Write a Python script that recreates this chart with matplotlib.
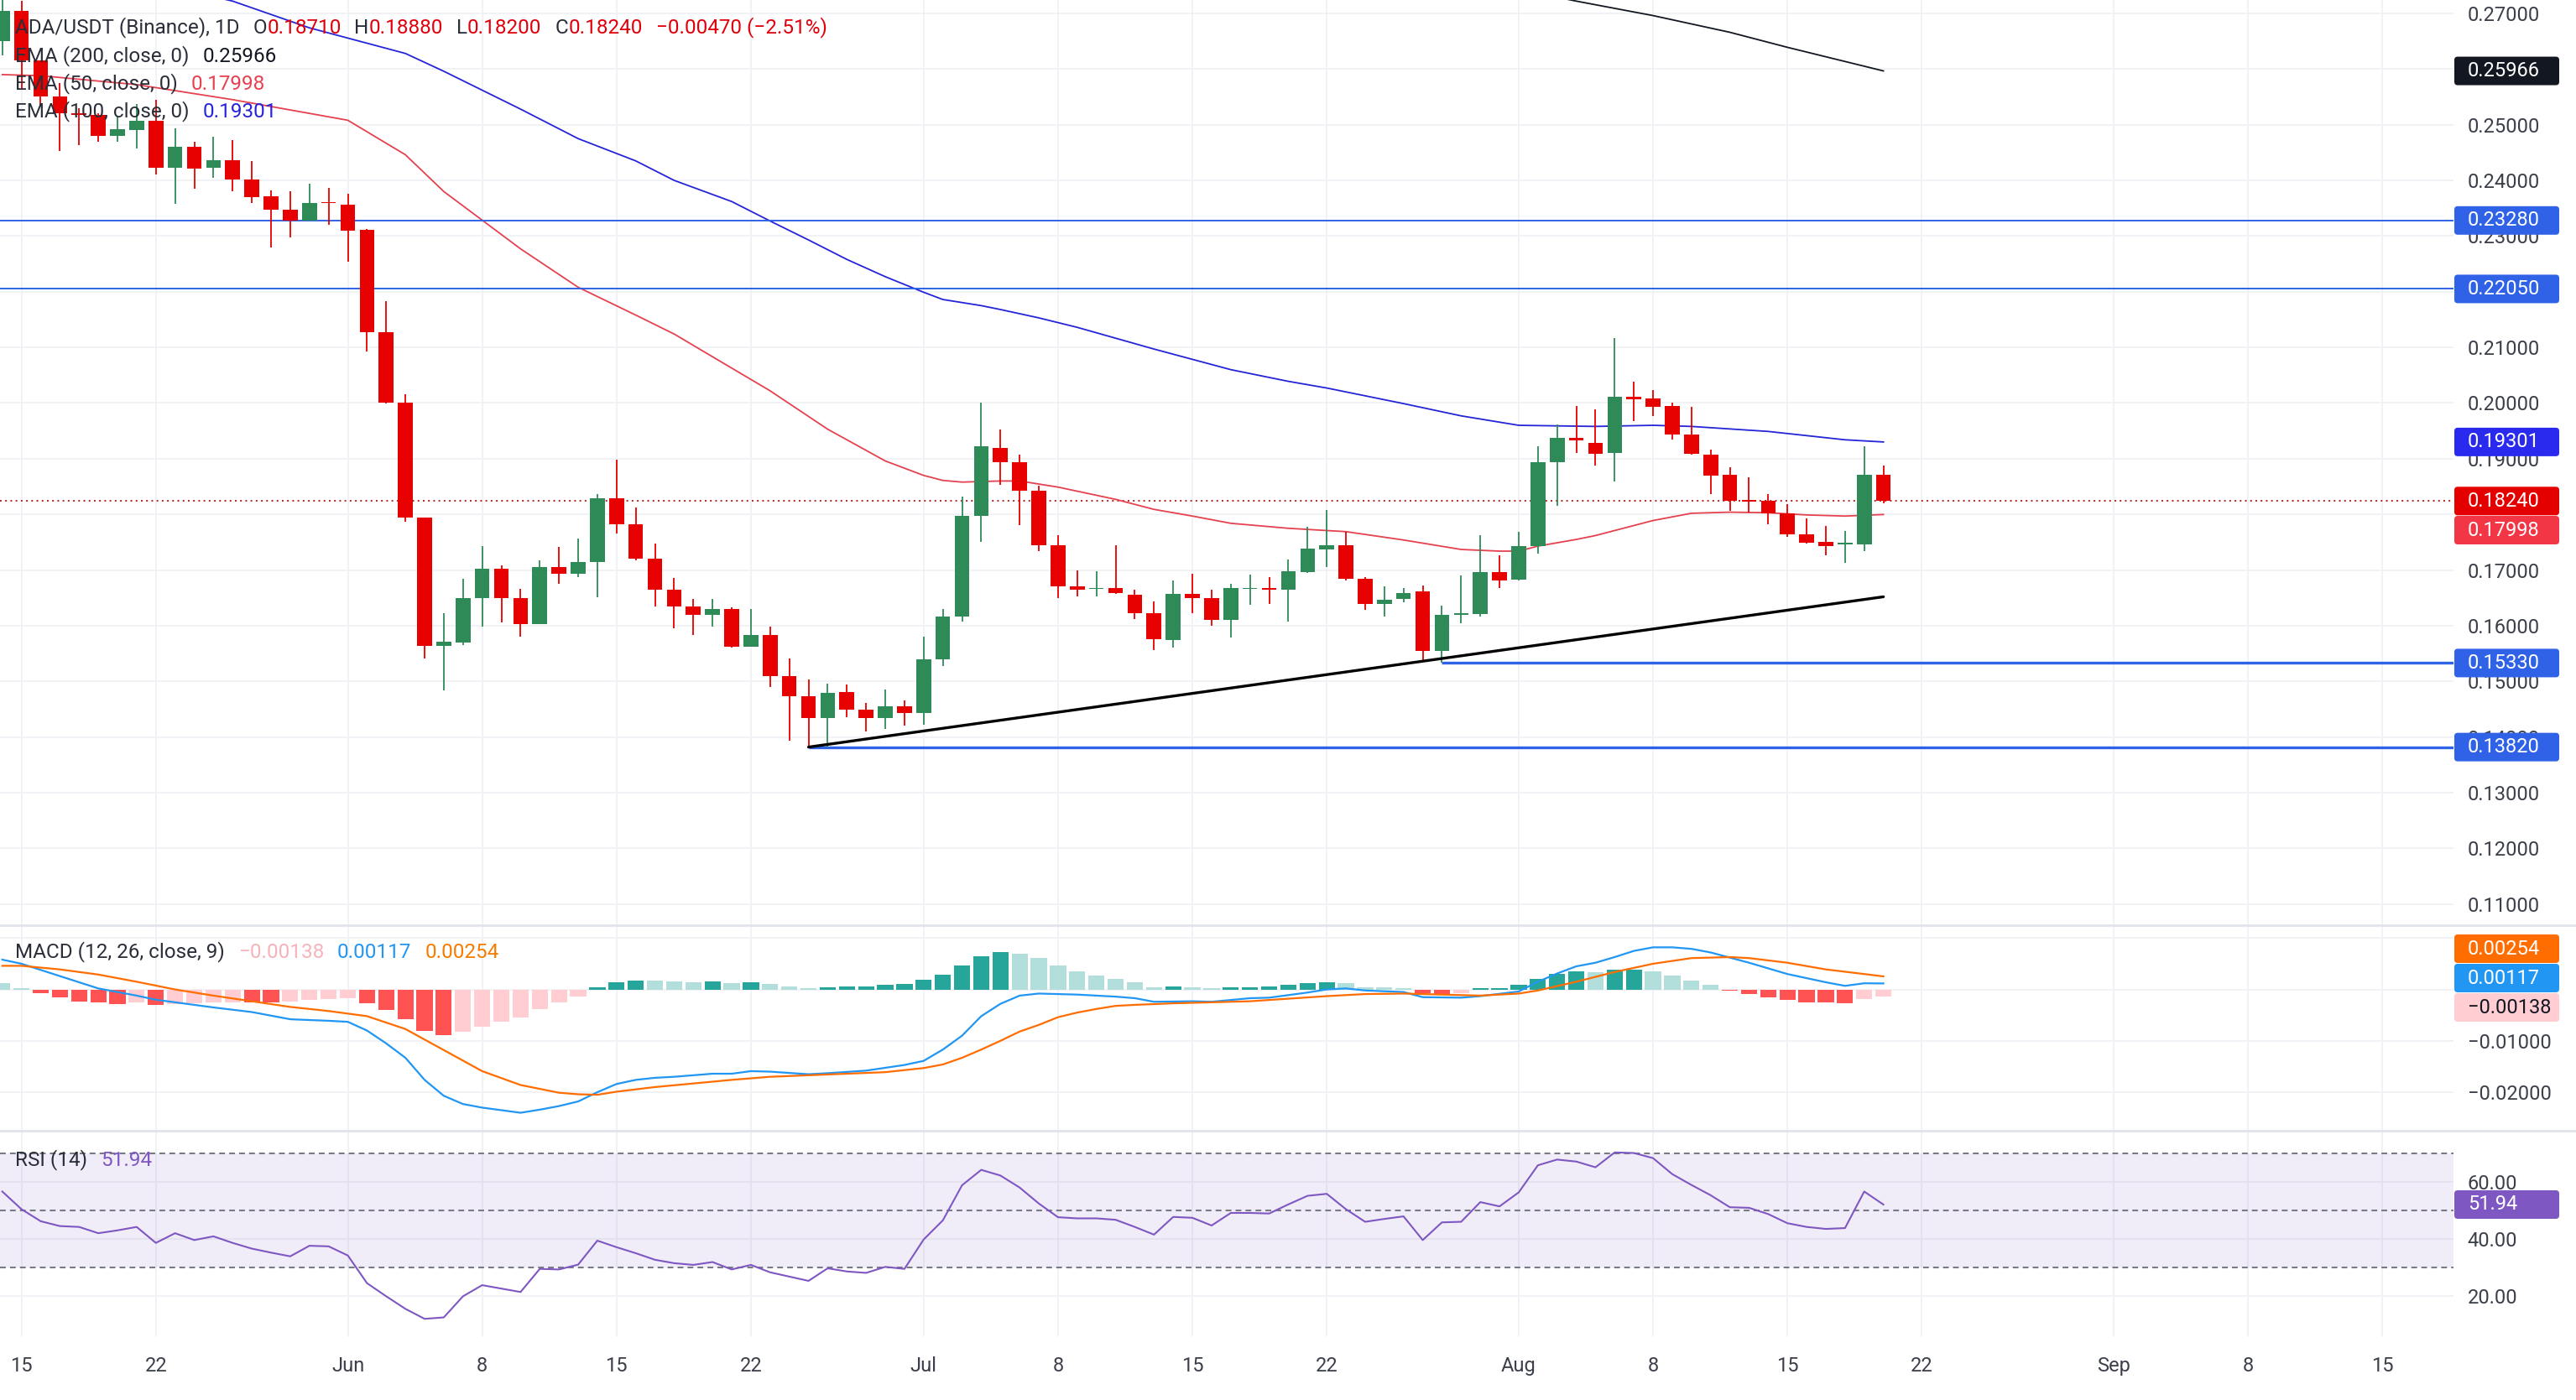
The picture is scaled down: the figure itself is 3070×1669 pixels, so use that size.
import numpy as np
import pandas as pd
import matplotlib
matplotlib.use("Agg")
import matplotlib.pyplot as plt
from matplotlib.patches import FancyBboxPatch
from matplotlib.transforms import IdentityTransform

plt.rcParams['font.family'] = ['Roboto', 'DejaVu Sans']

# ---------------- data ----------------
start_date = "2025-05-14"
opens = [0.2650, 0.2705, 0.2616, 0.2551, 0.2520, 0.2518, 0.2480, 0.2490, 0.2507, 0.2422,
         0.2460, 0.2422, 0.2436, 0.2401, 0.2371, 0.2348, 0.2328, 0.2361, 0.2356, 0.2311,
         0.2128, 0.2001, 0.1795, 0.1564, 0.1570, 0.1650, 0.1702, 0.1650, 0.1603, 0.1705,
         0.1693, 0.1715, 0.1829, 0.1783, 0.1720, 0.1665, 0.1634, 0.1619, 0.1630, 0.1562,
         0.1583, 0.1510, 0.1474, 0.1434, 0.1481, 0.1450, 0.1434, 0.1456, 0.1443, 0.1539,
         0.1616, 0.1798, 0.1920, 0.1894, 0.1842, 0.1745, 0.1670, 0.1666, 0.1667, 0.1656,
         0.1622, 0.1575, 0.1657, 0.1650, 0.1610, 0.1666, 0.1667, 0.1665, 0.1696, 0.1737,
         0.1745, 0.1685, 0.1639, 0.1648, 0.1661, 0.1555, 0.1620, 0.1621, 0.1697, 0.1683,
         0.1743, 0.1894, 0.1937, 0.1928, 0.1910, 0.2012, 0.2008, 0.1995, 0.1943, 0.1908,
         0.1871, 0.1826, 0.1824, 0.1802, 0.1764, 0.1750, 0.1746, 0.1746, 0.1871]
highs = [0.2730, 0.2722, 0.2616, 0.2575, 0.2530, 0.2521, 0.2514, 0.2537, 0.2545, 0.2493,
         0.2469, 0.2479, 0.2473, 0.2435, 0.2382, 0.2380, 0.2394, 0.2387, 0.2376, 0.2313,
         0.2183, 0.2016, 0.1795, 0.1622, 0.1685, 0.1743, 0.1708, 0.1666, 0.1717, 0.1741,
         0.1756, 0.1837, 0.1898, 0.1812, 0.1747, 0.1686, 0.1648, 0.1648, 0.1633, 0.1630,
         0.1598, 0.1541, 0.1504, 0.1496, 0.1494, 0.1462, 0.1485, 0.1466, 0.1581, 0.1630,
         0.1832, 0.2000, 0.1952, 0.1907, 0.1852, 0.1762, 0.1699, 0.1698, 0.1744, 0.1664,
         0.1644, 0.1682, 0.1694, 0.1664, 0.1676, 0.1692, 0.1688, 0.1719, 0.1777, 0.1808,
         0.1768, 0.1687, 0.1670, 0.1668, 0.1672, 0.1636, 0.1691, 0.1763, 0.1727, 0.1769,
         0.1922, 0.1962, 0.1994, 0.1989, 0.2117, 0.2039, 0.2024, 0.2000, 0.1993, 0.1917,
         0.1884, 0.1867, 0.1837, 0.1818, 0.1793, 0.1779, 0.1770, 0.1922, 0.1888]
lows = [0.2625, 0.2565, 0.2533, 0.2453, 0.2463, 0.2470, 0.2470, 0.2458, 0.2411, 0.2358,
        0.2385, 0.2405, 0.2380, 0.2360, 0.2279, 0.2298, 0.2327, 0.2320, 0.2254, 0.2093,
        0.1999, 0.1787, 0.1541, 0.1484, 0.1565, 0.1598, 0.1606, 0.1580, 0.1603, 0.1675,
        0.1687, 0.1651, 0.1766, 0.1718, 0.1635, 0.1596, 0.1583, 0.1598, 0.1561, 0.1562,
        0.1490, 0.1394, 0.1382, 0.1382, 0.1435, 0.1410, 0.1415, 0.1421, 0.1422, 0.1527,
        0.1608, 0.1750, 0.1853, 0.1781, 0.1734, 0.1649, 0.1652, 0.1653, 0.1657, 0.1612,
        0.1556, 0.1561, 0.1622, 0.1600, 0.1579, 0.1637, 0.1639, 0.1608, 0.1695, 0.1705,
        0.1682, 0.1629, 0.1617, 0.1642, 0.1538, 0.1533, 0.1604, 0.1617, 0.1667, 0.1682,
        0.1729, 0.1816, 0.1910, 0.1887, 0.1859, 0.1967, 0.1977, 0.1934, 0.1908, 0.1837,
        0.1807, 0.1804, 0.1782, 0.1759, 0.1747, 0.1726, 0.1713, 0.1734, 0.1820]
closes = [0.2705, 0.2616, 0.2551, 0.2520, 0.2518, 0.2480, 0.2492, 0.2507, 0.2422, 0.2460,
          0.2421, 0.2436, 0.2401, 0.2370, 0.2348, 0.2328, 0.2359, 0.2359, 0.2310, 0.2127,
          0.2000, 0.1795, 0.1564, 0.1571, 0.1650, 0.1702, 0.1650, 0.1603, 0.1705, 0.1693,
          0.1715, 0.1829, 0.1782, 0.1720, 0.1665, 0.1634, 0.1619, 0.1630, 0.1562, 0.1583,
          0.1510, 0.1474, 0.1434, 0.1480, 0.1449, 0.1434, 0.1456, 0.1443, 0.1539, 0.1616,
          0.1798, 0.1922, 0.1894, 0.1842, 0.1745, 0.1670, 0.1665, 0.1668, 0.1658, 0.1622,
          0.1576, 0.1657, 0.1650, 0.1610, 0.1667, 0.1668, 0.1665, 0.1698, 0.1738, 0.1744,
          0.1684, 0.1639, 0.1647, 0.1659, 0.1555, 0.1620, 0.1622, 0.1697, 0.1682, 0.1743,
          0.1894, 0.1937, 0.1933, 0.1909, 0.2011, 0.2007, 0.1993, 0.1944, 0.1909, 0.1870,
          0.1824, 0.1823, 0.1802, 0.1764, 0.1749, 0.1743, 0.1749, 0.1871, 0.1824]

# EMA lines, read at candle numbers (1 = first candle)
ema50_n = [1, 3, 8, 13, 19, 22, 24, 28, 31, 34, 36, 41, 44, 47, 49, 50, 51, 53, 54, 56,
           59, 61, 63, 65, 68, 71, 74, 77, 79, 80, 81, 83, 84, 87, 89, 91, 93, 95, 97, 99]
ema50_v = [0.2590, 0.2588, 0.2572, 0.2545, 0.2508, 0.2446, 0.2380, 0.2277, 0.2208, 0.2158,
           0.2124, 0.2022, 0.1953, 0.1896, 0.1870, 0.1861, 0.1858, 0.1860, 0.1860, 0.1849,
           0.1827, 0.1809, 0.1797, 0.1784, 0.1775, 0.1769, 0.1754, 0.1737, 0.1734, 0.1734,
           0.1743, 0.1755, 0.1762, 0.1789, 0.1802, 0.1804, 0.1803, 0.1799, 0.1797, 0.17998]
ema100_n = [12, 13, 17, 22, 24, 28, 31, 34, 36, 39, 41, 43, 45, 47, 49, 50, 52, 53, 55, 57,
            61, 65, 68, 70, 74, 77, 80, 82, 84, 87, 89, 93, 97, 99]
ema100_v = [0.2730, 0.2722, 0.2674, 0.2628, 0.2596, 0.2528, 0.2475, 0.2435, 0.2400, 0.2362,
            0.2327, 0.2293, 0.2258, 0.2227, 0.2199, 0.2186, 0.2175, 0.2168, 0.2153, 0.2136,
            0.2097, 0.2060, 0.2039, 0.2027, 0.1999, 0.1977, 0.1960, 0.1959, 0.1958, 0.1960,
            0.1958, 0.1949, 0.1934, 0.19301]
ema200_n = [82, 83, 87, 91, 94, 99]
ema200_v = [0.2729, 0.2722, 0.2696, 0.2666, 0.2639, 0.25966]

levels = [0.2328, 0.2205, 0.1533, 0.1382]
level_from = [None, None, 76, 43]
trend_n = [43, 99]
trend_v = [0.1382, 0.1652]
last_price = 0.1824

macd_n = [1, 2, 4, 6, 8, 9, 12, 14, 16, 18, 19, 20, 21, 22, 23, 24, 25, 26, 28, 29,
          30, 31, 32, 33, 34, 35, 36, 37, 38, 39, 40, 41, 43, 44, 46, 48, 49, 50, 51, 52,
          53, 54, 55, 57, 59, 60, 61, 63, 64, 66, 67, 69, 70, 71, 72, 74, 75, 77, 78, 80,
          81, 82, 83, 84, 85, 86, 87, 88, 89, 90, 91, 92, 93, 94, 95, 96, 97, 98, 99]
macd_v = [0.0058, 0.0050, 0.0026, 0.0002, -0.0012, -0.0020, -0.0035, -0.0044, -0.0058, -0.0061,
          -0.0063, -0.0080, -0.0105, -0.0133, -0.0176, -0.0207, -0.0223, -0.0230, -0.0240, -0.0234,
          -0.0227, -0.0218, -0.0200, -0.0184, -0.0176, -0.0172, -0.0170, -0.0167, -0.0164, -0.0164,
          -0.0159, -0.0160, -0.0165, -0.0163, -0.0158, -0.0147, -0.0139, -0.0117, -0.0090, -0.0052,
          -0.0028, -0.0012, -0.0008, -0.0010, -0.0014, -0.0017, -0.0024, -0.0023, -0.0024, -0.0017,
          -0.0016, -0.0006, 0.0000, 0.0002, -0.0002, -0.0005, -0.0015, -0.0016, -0.0013, -0.0004,
          0.0015, 0.0031, 0.0045, 0.0052, 0.0063, 0.0075, 0.0082, 0.0082, 0.0079, 0.0072,
          0.0062, 0.0052, 0.0041, 0.0030, 0.0022, 0.0014, 0.0007, 0.0012, 0.00117]
signal_n = [1, 2, 4, 6, 8, 10, 12, 14, 16, 18, 20, 22, 24, 26, 28, 30, 31, 32, 33, 35,
            37, 39, 41, 43, 45, 47, 49, 50, 51, 52, 53, 54, 55, 56, 57, 58, 59, 60, 62, 64,
            66, 68, 70, 72, 74, 76, 78, 80, 81, 83, 85, 87, 89, 91, 92, 94, 96, 98, 99]
signal_v = [0.0046, 0.0046, 0.0039, 0.0029, 0.0015, 0.0000, -0.0012, -0.0023, -0.0034, -0.0042,
            -0.0052, -0.0077, -0.0118, -0.0159, -0.0186, -0.0201, -0.0204, -0.0205, -0.0199, -0.0190,
            -0.0183, -0.0176, -0.0170, -0.0167, -0.0164, -0.0161, -0.0153, -0.0146, -0.0133, -0.0117,
            -0.0100, -0.0082, -0.0069, -0.0054, -0.0045, -0.0038, -0.0032, -0.0030, -0.0027, -0.0025,
            -0.0023, -0.0018, -0.0013, -0.0009, -0.0008, -0.0010, -0.0012, -0.0008, -0.0002, 0.0015,
            0.0034, 0.0050, 0.0061, 0.0063, 0.0061, 0.0052, 0.0039, 0.0030, 0.00254]
hist = [0.0012, 0.0003, -0.0008, -0.0016, -0.0023, -0.0026, -0.0028, -0.0026, -0.0030, -0.0028,
        -0.0027, -0.0026, -0.0025, -0.00255, -0.0026, -0.0024, -0.0021, -0.0019, -0.0017, -0.0027,
        -0.0040, -0.0058, -0.0081, -0.0089, -0.0083, -0.0072, -0.0062, -0.0054, -0.0038, -0.0025,
        -0.0014, 0.0005, 0.0014, 0.0018, 0.0017, 0.0015, 0.00145, 0.0015, 0.0012, 0.0014,
        0.0011, 0.0006, 0.0003, 0.0005, 0.00052, 0.00055, 0.0009, 0.0011, 0.0019, 0.0029,
        0.0046, 0.0064, 0.0072, 0.0070, 0.0061, 0.0046, 0.0035, 0.0027, 0.0020, 0.0014,
        0.0005, 0.00055, 0.0005, 0.0002, 0.0004, 0.0005, 0.0006, 0.0009, 0.0012, 0.0014,
        0.0012, 0.0005, 0.0004, 0.0002, -0.0008, -0.0009, -0.0008, 0.0002, 0.0003, 0.0009,
        0.0021, 0.0030, 0.0035, 0.0033, 0.0038, 0.0039, 0.0035, 0.0027, 0.0018, 0.0009,
        -0.0003, -0.0009, -0.0016, -0.0021, -0.0025, -0.0026, -0.0027, -0.0019, -0.00138]
rsi = [56.5, 50.3, 46.1, 44.4, 44.1, 41.9, 42.9, 44.1, 38.5, 41.9,
       39.5, 40.8, 38.5, 36.5, 35.1, 33.8, 37.5, 37.3, 34.1, 24.4,
       19.8, 15.4, 11.9, 12.4, 19.8, 23.7, 22.5, 21.3, 29.4, 29.2,
       30.9, 39.3, 37.0, 34.9, 32.6, 31.4, 30.8, 31.8, 29.2, 30.8,
       28.2, 26.7, 25.2, 29.6, 28.5, 28.0, 30.1, 29.4, 39.7, 46.4,
       58.7, 64.1, 62.1, 57.9, 52.3, 47.5, 47.1, 47.1, 46.6, 44.1,
       41.4, 47.6, 47.3, 44.6, 49.0, 49.0, 48.8, 52.0, 55.0, 55.7,
       50.3, 45.9, 46.9, 47.8, 39.5, 45.7, 45.9, 52.8, 51.3, 56.2,
       65.7, 67.7, 67.0, 65.0, 70.2, 70.0, 68.2, 62.6, 58.8, 55.2,
       51.0, 50.8, 48.6, 45.4, 44.1, 43.4, 43.7, 56.5, 51.94]

tick_dates = ["2025-05-15", "2025-05-22", "2025-06-01", "2025-06-08", "2025-06-15",
              "2025-06-22", "2025-07-01", "2025-07-08", "2025-07-15", "2025-07-22",
              "2025-08-01", "2025-08-08", "2025-08-15", "2025-08-22", "2025-09-01",
              "2025-09-08", "2025-09-15"]
price_ticks = [0.27, 0.26, 0.25, 0.24, 0.23, 0.22, 0.21, 0.20, 0.19, 0.18, 0.17, 0.16,
               0.15, 0.14, 0.13, 0.12, 0.11]
# ticks whose label sits fully under a value box
covered_ticks = [0.26, 0.22, 0.18]

# ---------------- colours ----------------
UP, DN = '#2E8A57', '#E60000'
TXT = '#2A2E39'
AXT = '#3B3F4A'
GRID = '#F0F1F4'
LVL = '#2F62E6'
E50, E100, E200 = '#E5414F', '#2424D8', '#131722'
M_BLUE, M_ORANGE = '#2196F3', '#FF6D00'
H_UP, H_UP2, H_DN, H_DN2 = '#26A69A', '#B2DFDB', '#FF5252', '#FFCDD2'
PURPLE = '#7E57C2'
FS = 17.5

W, H = 3070, 1669
fig = plt.figure(figsize=(W / 100, H / 100), dpi=100)
fig.patch.set_facecolor('white')

AX_R = 2924
P_BOT, M_BOT, R_BOT = 1103, 1348, 1593
ax_p = fig.add_axes([0, 1 - P_BOT / H, AX_R / W, P_BOT / H])
ax_m = fig.add_axes([0, 1 - M_BOT / H, AX_R / W, (M_BOT - P_BOT) / H])
ax_r = fig.add_axes([0, 1 - R_BOT / H, AX_R / W, (R_BOT - M_BOT) / H])

x0 = pd.Timestamp(start_date)
xs = np.arange(len(closes))
tick_x = [(pd.Timestamp(d) - x0).days for d in tick_dates]
tick_lab = [pd.Timestamp(d).strftime('%b') if pd.Timestamp(d).day == 1 else str(pd.Timestamp(d).day)
            for d in tick_dates]

XL = (-0.12, 127.7)
for ax in (ax_p, ax_m, ax_r):
    ax.set_xlim(*XL)
    for s in ax.spines.values():
        s.set_visible(False)
    ax.set_facecolor('none')
    for t in tick_x:
        ax.axvline(t, color=GRID, lw=1.3, zorder=0)
    ax.yaxis.tick_right()
    ax.tick_params(axis='y', length=0, pad=12, labelsize=17, colors=AXT)
    ax.tick_params(axis='x', length=0)
    ax.set_xticks([])

# ---------------- price pane ----------------
o = np.array(opens); c = np.array(closes); h = np.array(highs); l = np.array(lows)
cols = np.where(c >= o, UP, DN)
ax_p.set_ylim(0.1062, 0.2724)
for v in price_ticks:
    ax_p.axhline(v, color=GRID, lw=1.3, zorder=0)
label_ticks = [v for v in price_ticks if v not in covered_ticks]
ax_p.set_yticks(label_ticks)
ax_p.set_yticklabels(['%.5f' % v for v in label_ticks])

ax_p.vlines(xs, l, h, colors=cols, lw=1.3, zorder=3)
ax_p.bar(xs, np.maximum(np.abs(c - o), 0.00012), bottom=np.minimum(o, c), width=0.77,
         color=cols, linewidth=0, zorder=4)

ax_p.plot(np.array(ema50_n) - 1, ema50_v, color=E50, lw=1.3, zorder=2)
ax_p.plot(np.array(ema100_n) - 1, ema100_v, color=E100, lw=1.3, zorder=2)
ax_p.plot(np.array(ema200_n) - 1, ema200_v, color=E200, lw=1.3, zorder=2)

for v, f in zip(levels, level_from):
    if f is None:
        ax_p.axhline(v, color=LVL, lw=1.4, zorder=2)
    else:
        ax_p.hlines(v, f - 1, XL[1], color=LVL, lw=2.4, zorder=2)
ax_p.plot(np.array(trend_n) - 1, trend_v, color='black', lw=2.4, zorder=5,
          solid_capstyle='round')
ax_p.axhline(last_price, color='#B22222', lw=1.4, ls=(0, (1, 2.2)), zorder=1)

# ---------------- MACD pane ----------------
ax_m.set_ylim(-0.0275, 0.0125)
for v in [0.01, 0.0, -0.01, -0.02]:
    ax_m.axhline(v, color=GRID, lw=1.3, zorder=0)
ax_m.set_yticks([-0.01, -0.02])
ax_m.set_yticklabels(['\u22120.01000', '\u22120.02000'])
hcols = []
for k, v in enumerate(hist):
    prev = hist[k - 1] if k > 0 else None
    if v >= 0:
        hcols.append(H_UP if (prev is not None and v > prev) else H_UP2)
    else:
        hcols.append(H_DN if (prev is not None and v < prev) else H_DN2)
ax_m.bar(xs, hist, width=0.84, color=hcols, linewidth=0, zorder=2)
ax_m.plot(np.array(macd_n) - 1, macd_v, color=M_BLUE, lw=1.6, zorder=3)
ax_m.plot(np.array(signal_n) - 1, signal_v, color=M_ORANGE, lw=1.6, zorder=3)

# ---------------- RSI pane ----------------
ax_r.set_ylim(5.8, 77.8)
for v in [20, 40, 60]:
    ax_r.axhline(v, color=GRID, lw=1.3, zorder=0)
ax_r.axhspan(30, 70, color=PURPLE, alpha=0.1, lw=0, zorder=0)
for v in [30, 50, 70]:
    ax_r.axhline(v, color='#787B86', lw=1.5, dashes=(3.3, 2.4), zorder=1)
ax_r.plot(xs, rsi, color=PURPLE, lw=1.5, zorder=3)
ax_r.set_yticks([60, 40, 20])
ax_r.set_yticklabels(['60.00', '40.00', '20.00'])
ax_r.set_xticks(tick_x)
ax_r.set_xticklabels(tick_lab)
ax_r.tick_params(axis='x', length=0, pad=17, labelsize=17, colors=AXT)

# pane separators
for yy in (P_BOT, M_BOT):
    fig.add_artist(plt.Line2D([0, 1], [1 - yy / H, 1 - yy / H], color='#E0E3EB', lw=2,
                              transform=fig.transFigure))

# ---------------- right-axis value boxes ----------------
def value_box(ax, value, text, fc, tc='white', y_px=None):
    if y_px is None:
        yd = ax.transData.transform((0, value))[1]
    else:
        yd = H - y_px
    box = FancyBboxPatch((2925, yd - 17), 125, 34, boxstyle='round,pad=0,rounding_size=4',
                         fc=fc, ec='none', transform=IdentityTransform(), zorder=5)
    fig.add_artist(box)
    fig.text(2941, yd, text, color=tc, fontsize=17, va='center', ha='left',
             transform=IdentityTransform(), zorder=6)

value_box(ax_p, 0.25966, '0.25966', '#131722')
value_box(ax_p, 0.2328, '0.23280', LVL)
value_box(ax_p, 0.2205, '0.22050', LVL)
value_box(ax_p, 0.19301, '0.19301', '#2A2AEE')
value_box(ax_p, 0.1824, '0.18240', '#E50000')
value_box(ax_p, 0.17998, '0.17998', '#F23645', y_px=632)
value_box(ax_p, 0.1533, '0.15330', LVL)
value_box(ax_p, 0.1382, '0.13820', LVL)
value_box(ax_m, 0.00254, '0.00254', M_ORANGE, y_px=1131)
value_box(ax_m, 0.00117, '0.00117', M_BLUE, y_px=1166)
value_box(ax_m, -0.00138, '\u22120.00138', H_DN2, tc='#131722', y_px=1201)
value_box(ax_r, 51.94, '51.94', PURPLE)

# ---------------- legends ----------------
renderer = fig.canvas.get_renderer()

def pieces(x_px, y_px, parts, size=FS):
    x = x_px
    for s, col, gap in parts:
        x += gap
        t = fig.text(x, H - y_px, s, color=col, fontsize=size, va='center', ha='left',
                     transform=IdentityTransform(), zorder=7)
        x = t.get_window_extent(renderer=renderer).x1

RED = '#E0000B'
pieces(18, 33, [("ADA/USDT (Binance), 1D", TXT, 0), ("O", TXT, 16), ("0.18710", RED, 0),
                ("H", TXT, 16), ("0.18880", RED, 0), ("L", TXT, 16), ("0.18200", RED, 0),
                ("C", TXT, 16), ("0.18240", RED, 0), ("\u22120.00470 (\u22122.51%)", RED, 16)])
pieces(18, 67, [("EMA (200, close, 0)", TXT, 0), ("0.25966", '#131722', 16)])
pieces(18, 100, [("EMA (50, close, 0)", TXT, 0), ("0.17998", E50, 16)])
pieces(18, 133, [("EMA (100, close, 0)", TXT, 0), ("0.19301", E100, 16)])
pieces(18, 1135, [("MACD (12, 26, close, 9)", TXT, 0), ("\u22120.00138", '#F6B3B9', 16),
                  ("0.00117", M_BLUE, 16), ("0.00254", '#F57C00', 16)])
pieces(18, 1383, [("RSI (14)", TXT, 0), ("51.94", PURPLE, 16)])

fig.savefig("out.png", dpi=100)
